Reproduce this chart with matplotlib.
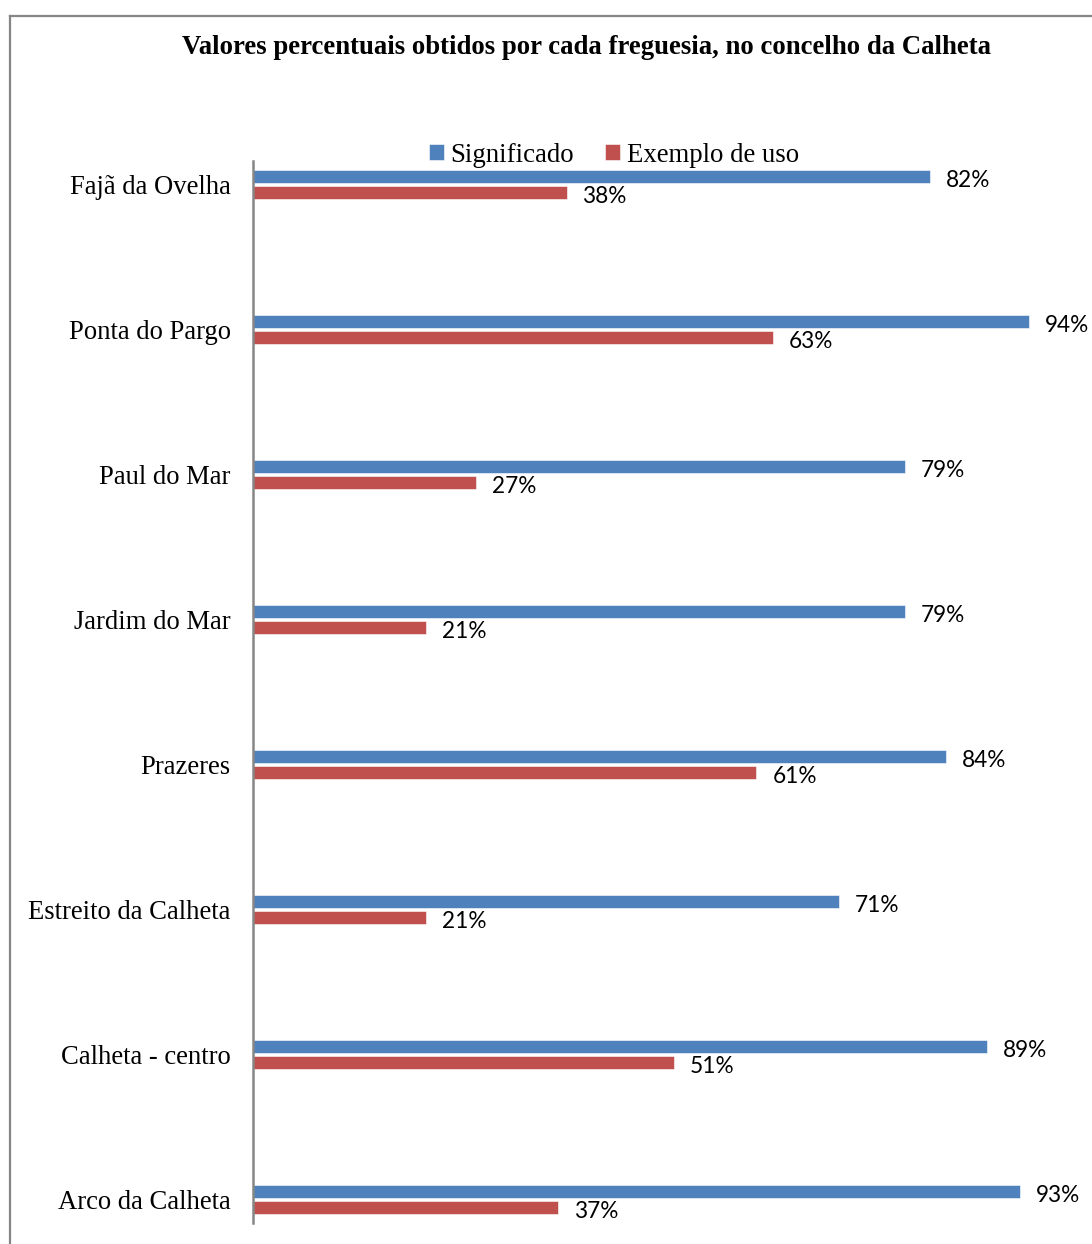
import matplotlib
matplotlib.use("Agg")
import matplotlib.pyplot as plt
from matplotlib.lines import Line2D
import numpy as np

title = "Valores percentuais obtidos por cada freguesia, no concelho da Calheta"
categories = ["Fajã da Ovelha", "Ponta do Pargo", "Paul do Mar", "Jardim do Mar",
              "Prazeres", "Estreito da Calheta", "Calheta - centro", "Arco da Calheta"]
significado = [82, 94, 79, 79, 84, 71, 89, 93]
exemplo = [38, 63, 27, 21, 61, 21, 51, 37]
series_names = ["Significado", "Exemplo de uso"]
colors = ["#4F81BD", "#C0504D"]

W, H = 1092, 1244
fig = plt.figure(figsize=(W / 100, H / 100), dpi=100)
ax = fig.add_axes([253 / W, 21 / H, 825 / W, 1062 / H])

y = np.arange(len(categories))
off = 8 / 145
bh = 13 / 145
b1 = ax.barh(y - off, significado, height=bh, color=colors[0], label=series_names[0],
             edgecolor="white", linewidth=0.4)
b2 = ax.barh(y + off, exemplo, height=bh, color=colors[1], label=series_names[1],
             edgecolor="white", linewidth=0.4)

for cont, vals in ((b1, significado), (b2, exemplo)):
    for rect, v in zip(cont, vals):
        ax.annotate(f"{v}%", xy=(v, rect.get_y() + rect.get_height() / 2),
                    xytext=(16, -4), textcoords="offset pixels", va="center", ha="left",
                    fontsize=16.3, family="Lato", color="#000000")

ax.set_xlim(0, 100)
ax.set_ylim(7 + 24 / 145, -24 / 145)
ax.set_yticks(y)
ax.set_yticklabels(categories, family="Liberation Serif", fontsize=19.2)
ax.tick_params(axis="y", length=0, pad=16)
ax.set_xticks([])
for s in ["top", "right", "bottom"]:
    ax.spines[s].set_visible(False)
ax.spines["left"].set_color("#868686")
ax.spines["left"].set_linewidth(1.8)

fig.text(586 / W, 1 - 48 / H, title, ha="center", va="center",
         family="Liberation Serif", fontweight="bold", fontsize=19.3)

leg = fig.legend(handles=[b1, b2], loc="center", bbox_to_anchor=(614 / W, 1 - 155 / H),
                 ncol=2, frameon=False, prop={"family": "Liberation Serif", "size": 19.3},
                 handlelength=0.55, handleheight=0.55, handletextpad=0.25, columnspacing=1.15)

# outer border (partially cropped)
fig.add_artist(Line2D([10 / W, 10 / W], [0, 1 - 16 / H], transform=fig.transFigure,
                      color="#868686", linewidth=1.6))
fig.add_artist(Line2D([10 / W, 1], [1 - 16 / H, 1 - 16 / H], transform=fig.transFigure,
                      color="#868686", linewidth=1.6))

fig.savefig("out.png", dpi=100)
